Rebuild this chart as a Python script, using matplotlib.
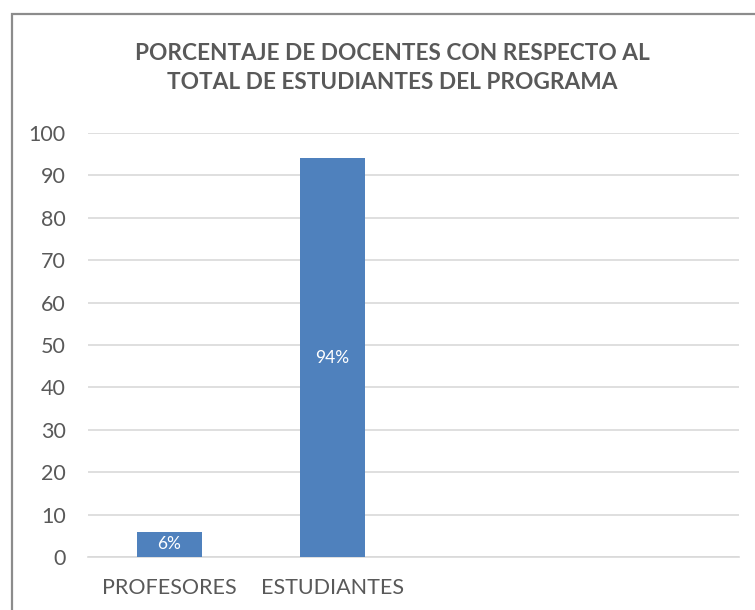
import matplotlib
matplotlib.use("Agg")
from matplotlib import pyplot as plt
from matplotlib.patches import Rectangle

plt.rcParams['font.family'] = ['Lato', 'DejaVu Sans']

categories = ["PROFESORES", "ESTUDIANTES", "", ""]
values = [6, 94, 0, 0]
labels = ["6%", "94%", "", ""]
title = "PORCENTAJE DE DOCENTES CON RESPECTO AL\nTOTAL DE ESTUDIANTES DEL PROGRAMA"

W, H = 755, 610
fig = plt.figure(figsize=(W / 100, H / 100), dpi=100, facecolor='white')

# chart frame, cut off on the right and bottom
fig.patches.append(Rectangle((12 / W, -0.05), 1.1, 1 - 14 / H + 0.05,
                             transform=fig.transFigure, fill=False,
                             edgecolor='#8c8c8c', linewidth=1.6))

ax = fig.add_axes([88 / W, 1 - 557 / H, (739 - 88) / W, (557 - 133) / H])
x = range(len(categories))
bars = ax.bar(x, values, width=0.4, color='#4f81bd', zorder=3)

for i, (v, lab) in enumerate(zip(values, labels)):
    if lab:
        ax.text(i, v / 2, lab, ha='center', va='center', color='white',
                fontsize=12.5, zorder=4)

ax.set_xlim(-0.5, len(categories) - 0.5)
ax.set_ylim(0, 100)
ax.set_yticks(range(0, 101, 10))
ax.set_xticks(list(x))
ax.set_xticklabels(categories)
ax.yaxis.grid(True, color='#d9d9d9', linewidth=1.2, zorder=0)
for s in ['top', 'right', 'left']:
    ax.spines[s].set_visible(False)
ax.spines['bottom'].set_color('#d9d9d9')
ax.spines['bottom'].set_linewidth(1.2)
ax.tick_params(axis='both', length=0, labelsize=15.5, labelcolor='#595959')
ax.tick_params(axis='y', pad=16)
ax.tick_params(axis='x', pad=15)

fig.text(392 / W, 1 - 68 / H, title, ha='center', va='center',
         fontsize=16.3, fontweight='bold', color='#595959', linespacing=1.45)

fig.savefig('out.png', dpi=100, facecolor='white')
